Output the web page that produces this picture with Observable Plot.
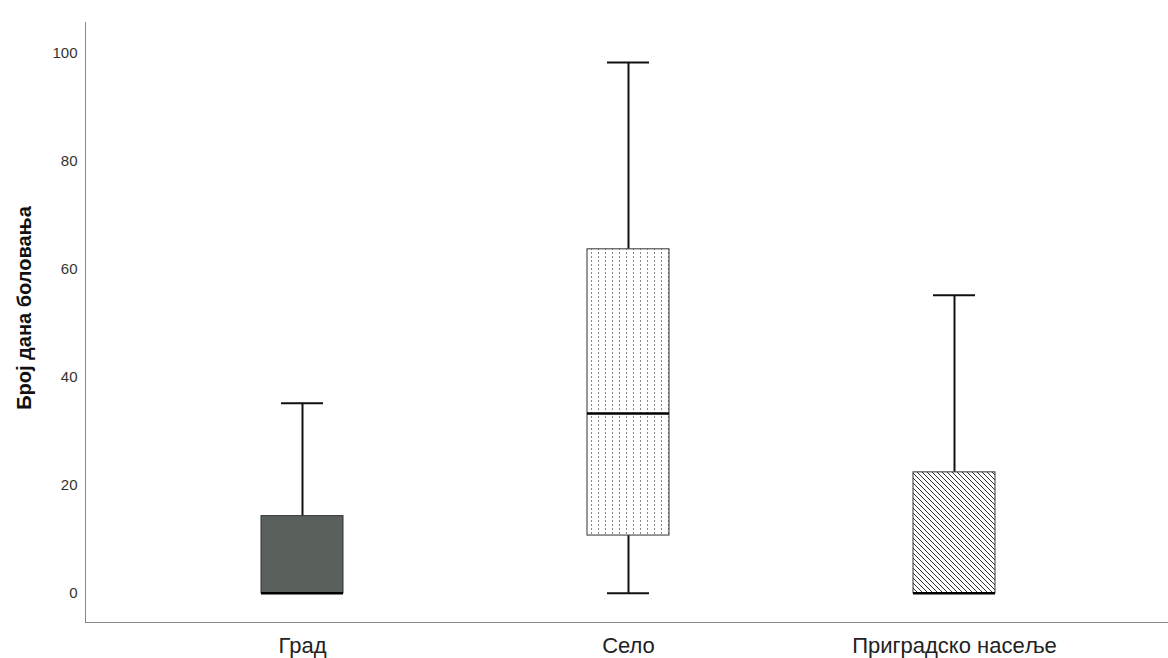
<!DOCTYPE html>
<html><head><meta charset="utf-8">
<script src="https://cdn.jsdelivr.net/npm/d3@7"></script>
<script src="https://cdn.jsdelivr.net/npm/@observablehq/plot@0.6"></script>
<style>body{margin:0;background:#fff}</style>
</head><body><div id="chart"></div>
<script>
const categories = ["Град", "Село", "Приградско насеље"];
const minValues = [0, 0, 0];
const q1Values = [0, 10.7, 0];
const medianValues = [0, 33.3, 0];
const q3Values = [14.3, 63.7, 22.4];
const maxValues = [35.2, 98.3, 55.2];
const yTicks = [0, 20, 40, 60, 80, 100];
const fills = ["#5a615c", "url(#pat-dots)", "url(#pat-hatch)"];
const yLabel = "Број дана боловања";

const data = categories.map((c, i) => ({
  cat: c, min: minValues[i], q1: q1Values[i], med: medianValues[i], q3: q3Values[i], max: maxValues[i], fill: fills[i]
}));

const font = "'Liberation Sans', Arial, sans-serif";
const plot = Plot.plot({
  width: 1168, height: 658,
  marginLeft: 85, marginRight: 0, marginTop: 22, marginBottom: 36,
  style: {fontFamily: font, background: "#fff"},
  x: {domain: categories, range: [139, 1117], padding: 0, label: null},
  y: {domain: [-5.4, 105.7], label: null},
  color: {type: "identity"},
  marks: [
    Plot.ruleX(data, {x: "cat", y1: "q3", y2: "max", stroke: "#111", strokeWidth: 2}),
    Plot.ruleX(data, {x: "cat", y1: "min", y2: "q1", stroke: "#111", strokeWidth: 2}),
    Plot.tickY(data, {x: "cat", y: "max", stroke: "#111", strokeWidth: 2, insetLeft: 142, insetRight: 142}),
    Plot.tickY(data.filter(d => d.min < d.q1), {x: "cat", y: "min", stroke: "#111", strokeWidth: 2, insetLeft: 142, insetRight: 142}),
    Plot.barY(data, {x: "cat", y1: "q1", y2: "q3", fill: "fill", stroke: "#333", strokeWidth: 1, insetLeft: 122, insetRight: 122}),
    Plot.tickY(data, {x: "cat", y: "med", stroke: "#000", strokeWidth: 2.5, insetLeft: 122, insetRight: 122}),
    Plot.frame({anchor: "left", stroke: "#888"}),
    Plot.frame({anchor: "bottom", stroke: "#888"}),
    Plot.axisY({ticks: yTicks, tickSize: 0, tickPadding: 8, fontSize: 15, fill: "#333", label: null}),
    Plot.axisX({tickSize: 0, tickPadding: 15, fontSize: 22, fill: "#222", label: null})
  ]
});

const ns = "http://www.w3.org/2000/svg";
const defs = document.createElementNS(ns, "defs");
defs.innerHTML = `
<pattern id="pat-dots" patternUnits="userSpaceOnUse" width="7" height="4">
  <rect width="7" height="4" fill="#fff"/>
  <line x1="3.5" y1="0" x2="3.5" y2="2" stroke="#8a8a8a" stroke-width="1"/>
</pattern>
<pattern id="pat-hatch" patternUnits="userSpaceOnUse" width="5" height="5">
  <rect width="5" height="5" fill="#fff"/>
  <path d="M-1,-1 L6,6 M-1,4 L1,6 M4,-1 L6,1" stroke="#333" stroke-width="1"/>
</pattern>`;
plot.insertBefore(defs, plot.firstChild);

// y-axis title
const t = document.createElementNS(ns, "text");
t.setAttribute("transform", "translate(31,308) rotate(-90)");
t.setAttribute("text-anchor", "middle");
t.setAttribute("font-size", "20");
t.setAttribute("font-weight", "bold");
t.setAttribute("font-family", font);
t.setAttribute("fill", "#111");
t.textContent = yLabel;
plot.appendChild(t);

document.getElementById("chart").appendChild(plot);
</script>
</body></html>
